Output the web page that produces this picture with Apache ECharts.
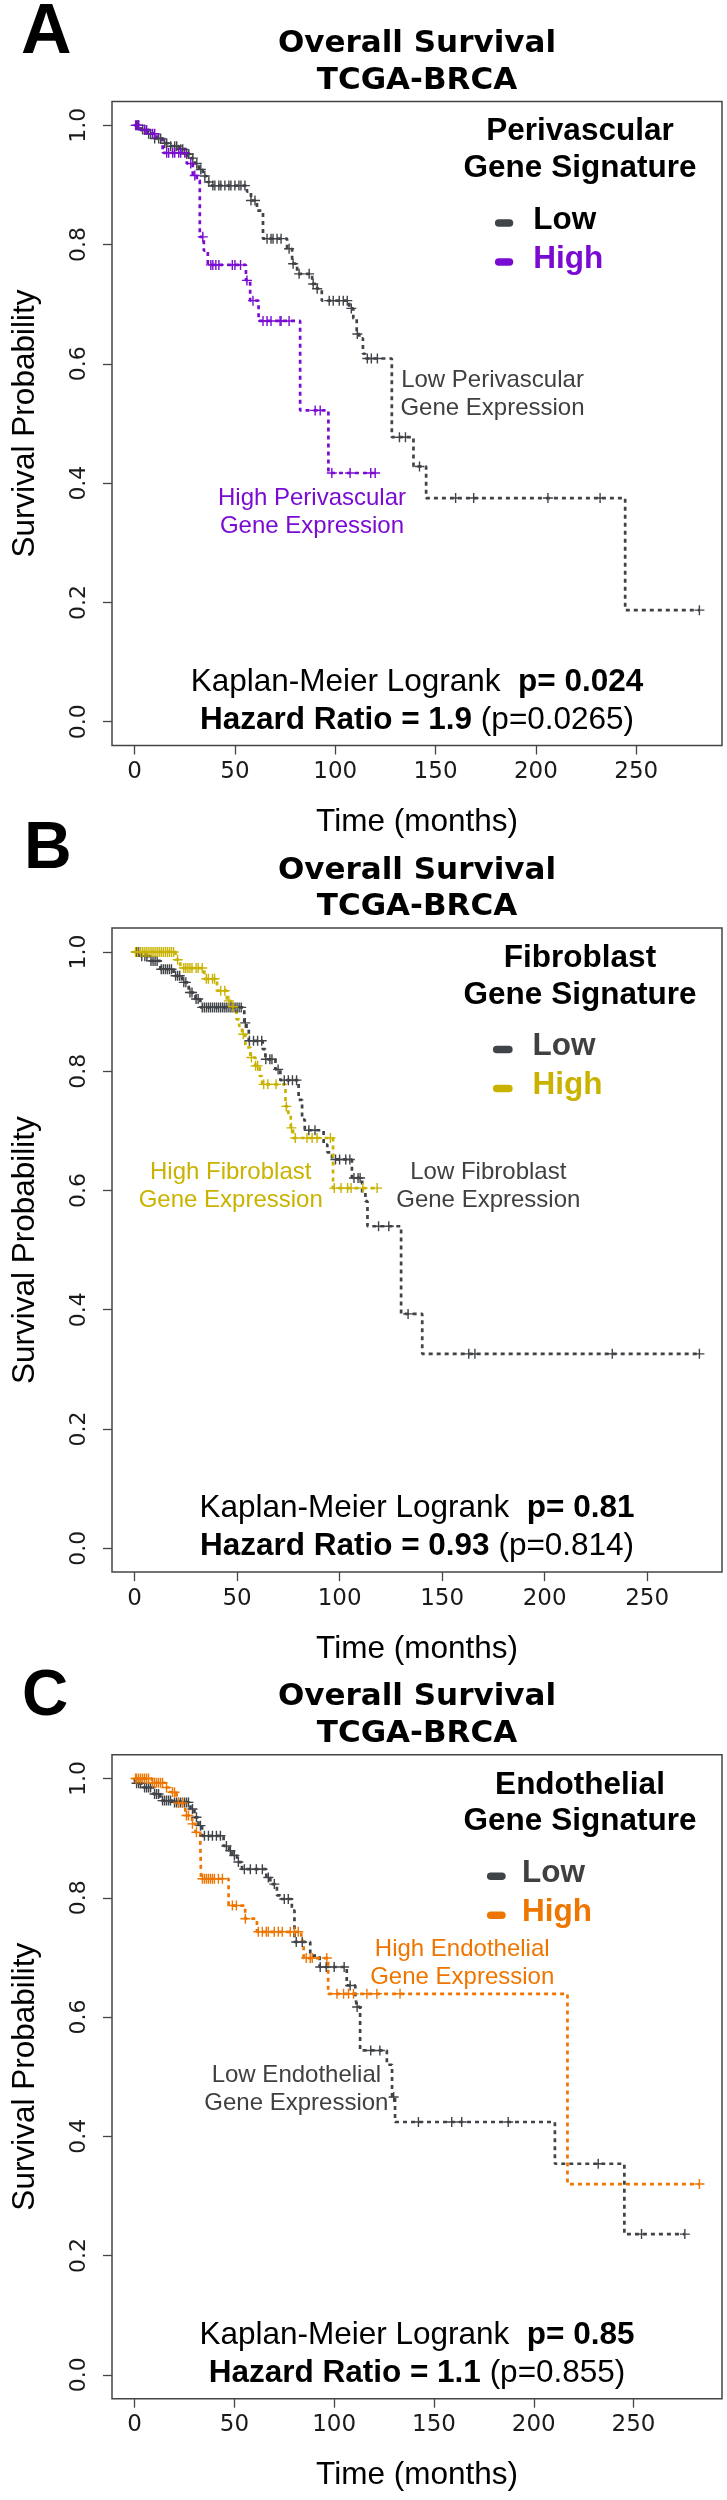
<!DOCTYPE html>
<html>
<head>
<meta charset="utf-8">
<script src="https://cdn.jsdelivr.net/npm/echarts@6/dist/echarts.min.js"></script>
<style>
  html, body { margin: 0; padding: 0; background: #fff; }
  #main { width: 727px; height: 2500px; }
</style>
</head>
<body>
<div id="main"></div>
<script>
// ---- data ----
var xTicks = [0, 50, 100, 150, 200, 250];
var yTicks = [0, 0.2, 0.4, 0.6, 0.8, 1.0];
var panelLetters = ['A', 'B', 'C'];
var signatures = ['Perivascular', 'Fibroblast', 'Endothelial'];
var maxTime = [281.5, 275.5, 283];
var logrankP = ['0.024', '0.81', '0.85'];
var hazardRatio = ['1.9', '0.93', '1.1'];
var hazardP = ['0.0265', '0.814', '0.855'];

// [time, survival] steps, survival holds from that time on
var lowStepsA = [[0,1],[3,0.993],[6,0.986],[10,0.978],[14,0.97],[18,0.965],[22,0.96],[26,0.952],[28,0.945],[30,0.936],[32,0.926],[34,0.915],[36,0.905],[38,0.899],[56,0.889],[58,0.874],[61,0.857],[64,0.81],[76,0.793],[78.5,0.768],[81,0.751],[88.5,0.734],[91,0.726],[93.3,0.706],[107,0.693],[109,0.676],[110.7,0.65],[112,0.643],[113.8,0.617],[115,0.609],[128.2,0.477],[139,0.428],[145.3,0.375],[244.5,0.187],[281.5,0.187]];
var highStepsA = [[0,1],[3,0.992],[8,0.986],[11,0.978],[14,0.954],[26,0.936],[29,0.916],[31,0.908],[32.5,0.813],[34.5,0.79],[36.5,0.766],[55.5,0.74],[57.6,0.706],[61.8,0.672],[82.5,0.522],[96.6,0.417],[119.9,0.417]];
var lowCensorA = [1,2,4,5,7,8,10,12,13,15,16,18,20,21,23,24,26,27,29,31,33,35,37,39,40,42,43,45,47,48,50,52,53,55,58,60,66,68,69,71,73,77,79,82,87,89,91,97,99,102,104,106,108,111,116,118,121,132,135,142,160,169,206,232,281.5];
var highCensorA = [0.5,1.5,2,5,6,9,10,16,17,19,20,22,23,25,28,30,34,38,39,40.5,42,48.7,50,52.8,56,59,64,66,68,72.5,73,77,90,92.5,98.3,107.4,117.7,119.9];

var lowStepsB = [[0,1],[3,0.993],[7.7,0.985],[12.6,0.971],[19,0.96],[23.2,0.949],[26.4,0.932],[29.7,0.921],[32.1,0.907],[53.5,0.881],[54.6,0.87],[55.7,0.851],[62.5,0.837],[63.8,0.82],[68.7,0.803],[71.1,0.785],[80,0.752],[81.7,0.719],[83,0.701],[92.2,0.677],[94,0.664],[96.3,0.652],[106,0.621],[111,0.596],[112.6,0.582],[113.6,0.54],[130,0.393],[140.3,0.326],[275.5,0.326]];
var highStepsB = [[0,1],[20,0.987],[22.3,0.973],[34,0.955],[40.2,0.935],[45,0.918],[47,0.908],[49.7,0.887],[51,0.876],[52.4,0.862],[54,0.84],[56.5,0.823],[58.9,0.809],[61,0.792],[62.2,0.778],[73.6,0.741],[75,0.727],[76.2,0.705],[77.3,0.688],[96.8,0.604],[118.3,0.604]];
var lowCensorB = [1,2,3.5,5,6,8,9,10,11,13,14,15,16,17,18,20,21,22,24,25,27,28,30,31,33,34,35,36,37,38,39,40,41,42,43,44,45,46,47,48,49,50,51,52,54,56,58,60,62,64,66,67,70,73,75,77,79,85,88,98,100,103,105,107,109,110,119,124,133.4,163,166,233,275.5];
var highCensorB = [0.5,1.5,3,4,5,6,7,8,9,10,11,12,13,14,15,16,17,18,19,21,24,25,26,27,28,30,31,33,35,36,38,39,42,44,46,48,53,57,59,60,63,65,69,74,76.5,78.4,84.1,86.6,89,95.5,97.4,100.7,103.9,105.6,111.3,118.3];

var lowStepsC = [[0,1],[0.5,0.992],[4.6,0.985],[9.6,0.974],[12.9,0.963],[19.6,0.96],[28,0.949],[30,0.935],[32,0.921],[33.8,0.904],[44.6,0.887],[47.3,0.879],[49,0.871],[51.3,0.86],[53.8,0.848],[66,0.834],[68,0.823],[71.3,0.804],[73,0.798],[78.8,0.779],[80.1,0.726],[88,0.703],[92.7,0.684],[106.3,0.653],[110.6,0.636],[111.3,0.617],[113,0.544],[126.4,0.52],[129,0.466],[130.5,0.424],[210.6,0.354],[245.4,0.236],[275.7,0.236]];
var highStepsC = [[0,1],[8.7,0.993],[15.4,0.985],[17.9,0.977],[21,0.959],[25.4,0.938],[28.8,0.924],[30.5,0.91],[32.9,0.896],[33.3,0.832],[47.1,0.787],[55.4,0.765],[61.3,0.743],[83.5,0.728],[84.7,0.699],[97,0.639],[216.9,0.32],[283,0.32]];
var lowCensorC = [1,2,3,5,6,7,8,10,11,12,14,15,16,17,18,20,21,22,23,24,25,26,27,29,31,33,35,37,39,41,43,46,48,50,52,55,58,61,64,67,70,75,77,81,84,93,96,100,105,108,111.5,118.3,122.9,129.8,142.2,158.9,163.9,187.2,232.3,254,275.7];
var highCensorC = [0.5,1,2,3,4,5,6,7,9,10,11,12,13,14,16,19,20,22,24,26,27,29,31,34,35,36,37,38,39,40,42,44,49,51,55.5,62,64,66,67,70,72,74,78,80,82,86,88,89,96.3,101.4,104.7,107.2,109.7,116.4,121.4,133,283];

var lowSteps = [lowStepsA, lowStepsB, lowStepsC];
var highSteps = [highStepsA, highStepsB, highStepsC];
var lowCensor = [lowCensorA, lowCensorB, lowCensorC];
var highCensor = [highCensorA, highCensorB, highCensorC];

// ---- layout / style ----
var PANEL_H = 826.6;
var LOW_COLOR = '#404347';
var highColors = ['#7A0BD2', '#C9B300', '#EE7600'];
var lowTextColors = ['#000', '#404040', '#404040'];
var plusIcon = 'path://M43,0H57V43H100V57H57V100H43V57H0V43H43Z';
var ARIAL = '"Liberation Sans", Arial, sans-serif';
var DEJAVU = '"DejaVu Sans", sans-serif';

function survAt(steps, t) {
    var s = steps[0][1];
    for (var i = 0; i < steps.length; i++) {
        if (steps[i][0] <= t) s = steps[i][1];
    }
    return s;
}

var myChart = echarts.init(document.getElementById('main'));
var grids = [], xAxes = [], yAxes = [], series = [], elements = [];

// per panel text positions
var letterPos = [[21, 33.3, 70], [24, 850, 66], [22, 1697.5, 64]];
var legendIconX = [[498.7, 509.5], [496.7, 508.9], [490.7, 501.9]];
var legendTextX = [533.3, 532.6, 522];
var lowLabel = [[492.5, 380.7], [488.3, 346.2], [296.4, 422.4]];
var highLabel = [[312, 498.1], [230.7, 346.2], [462.2, 296.5]];

function buildPanel(p) {
    var y0 = p * PANEL_H;
    var hc = highColors[p];

    grids.push({
        left: 112, top: y0 + 101.5, width: 610, height: 644,
        show: true, borderColor: '#444', borderWidth: 1.5, backgroundColor: 'transparent'
    });
    xAxes.push({
        gridIndex: p, type: 'value',
        min: -0.04 * maxTime[p], max: 1.04 * maxTime[p],
        axisLine: { show: false, onZero: false },
        splitLine: { show: false },
        axisTick: { show: true, inside: false, length: 9, customValues: xTicks,
                    lineStyle: { color: '#444', width: 1.3 } },
        axisLabel: { customValues: xTicks, margin: 15, color: '#1a1a1a',
                     fontFamily: DEJAVU, fontSize: 23 },
        name: 'Time (months)', nameLocation: 'middle', nameGap: 61,
        nameTextStyle: { fontFamily: ARIAL, fontSize: 31.5, color: '#000' }
    });
    yAxes.push({
        gridIndex: p, type: 'value', min: -0.04, max: 1.04,
        axisLine: { show: false, onZero: false },
        splitLine: { show: false },
        axisTick: { show: true, inside: false, length: 9, customValues: yTicks,
                    lineStyle: { color: '#444', width: 1.3 } },
        axisLabel: { customValues: yTicks, rotate: 90, margin: 22, color: '#1a1a1a',
                     fontFamily: DEJAVU, fontSize: 22,
                     formatter: function (v) { return v.toFixed(1); } },
        name: 'Survival Probability', nameLocation: 'middle', nameGap: 71,
        nameTextStyle: { fontFamily: ARIAL, fontSize: 31.5, color: '#000' }
    });

    var groups = [
        { name: 'Low', steps: lowSteps[p], censor: lowCensor[p], color: LOW_COLOR },
        { name: 'High', steps: highSteps[p], censor: highCensor[p], color: hc }
    ];
    groups.forEach(function (g, k) {
        series.push({
            name: panelLetters[p] + ' ' + g.name, type: 'line', step: 'end',
            xAxisIndex: p, yAxisIndex: p, symbol: 'none', z: 2 + k,
            itemStyle: { color: g.color },
            lineStyle: { color: g.color, width: 2.7, type: [4, 4] },
            data: g.steps
        });
        series.push({
            name: panelLetters[p] + ' ' + g.name + ' censored', type: 'scatter',
            xAxisIndex: p, yAxisIndex: p, symbol: plusIcon, symbolSize: 10, z: 4 + k,
            itemStyle: { color: g.color, opacity: 1 },
            data: g.censor.map(function (t) { return [t, survAt(g.steps, t)]; })
        });
    });

    // panel letter and titles
    elements.push({ type: 'text', x: letterPos[p][0], y: letterPos[p][1],
        style: { text: panelLetters[p], font: 'bold ' + letterPos[p][2] + 'px ' + ARIAL,
                 fill: '#000', align: 'left', verticalAlign: 'middle' } });
    elements.push({ type: 'text', x: 417, y: y0 + 44,
        style: { text: 'Overall Survival', font: 'bold 31px ' + DEJAVU,
                 fill: '#000', align: 'center', verticalAlign: 'middle' } });
    elements.push({ type: 'text', x: 417, y: y0 + 80.8,
        style: { text: 'TCGA-BRCA', font: 'bold 31px ' + DEJAVU,
                 fill: '#000', align: 'center', verticalAlign: 'middle' } });

    // legend block
    elements.push({ type: 'text', x: 580, y: y0 + 131.8,
        style: { text: signatures[p], font: 'bold 31.5px ' + ARIAL,
                 fill: '#000', align: 'center', verticalAlign: 'middle' } });
    elements.push({ type: 'text', x: 580, y: y0 + 168.5,
        style: { text: 'Gene Signature', font: 'bold 31.5px ' + ARIAL,
                 fill: '#000', align: 'center', verticalAlign: 'middle' } });
    [['Low', LOW_COLOR, lowTextColors[p], 223, 220], ['High', hc, hc, 262, 259]].forEach(function (r) {
        elements.push({ type: 'line',
            shape: { x1: legendIconX[p][0], y1: y0 + r[3], x2: legendIconX[p][1], y2: y0 + r[3] },
            style: { stroke: r[1], lineWidth: 7.5, lineCap: 'round' } });
        elements.push({ type: 'text', x: legendTextX[p], y: y0 + r[4],
            style: { text: r[0], font: 'bold 31.5px ' + ARIAL, fill: r[2],
                     align: 'left', verticalAlign: 'middle' } });
    });

    // curve annotations
    [[lowLabel[p], 'Low ', '#404040'], [highLabel[p], 'High ', hc]].forEach(function (a) {
        elements.push({ type: 'text', x: a[0][0], y: y0 + a[0][1],
            style: { text: a[1] + signatures[p], font: '24px ' + ARIAL, fill: a[2],
                     align: 'center', verticalAlign: 'middle' } });
        elements.push({ type: 'text', x: a[0][0], y: y0 + a[0][1] + 28,
            style: { text: 'Gene Expression', font: '24px ' + ARIAL, fill: a[2],
                     align: 'center', verticalAlign: 'middle' } });
    });

    // statistics
    var rich = {
        r: { font: '31.5px ' + ARIAL, fill: '#000' },
        b: { font: 'bold 31.5px ' + ARIAL, fill: '#000' }
    };
    elements.push({ type: 'text', x: 417, y: y0 + 682,
        style: { text: '{r|Kaplan-Meier Logrank  }{b|p= ' + logrankP[p] + '}', rich: rich,
                 font: '31.5px ' + ARIAL, align: 'center', verticalAlign: 'middle' } });
    elements.push({ type: 'text', x: 417, y: y0 + 720,
        style: { text: '{b|Hazard Ratio = ' + hazardRatio[p] + '} {r|(p=' + hazardP[p] + ')}', rich: rich,
                 font: '31.5px ' + ARIAL, align: 'center', verticalAlign: 'middle' } });
}

for (var p = 0; p < 3; p++) buildPanel(p);

var option = {
    animation: false,
    backgroundColor: '#fff',
    grid: grids,
    xAxis: xAxes,
    yAxis: yAxes,
    series: series,
    graphic: { elements: elements }
};
myChart.setOption(option);
</script>
</body>
</html>
